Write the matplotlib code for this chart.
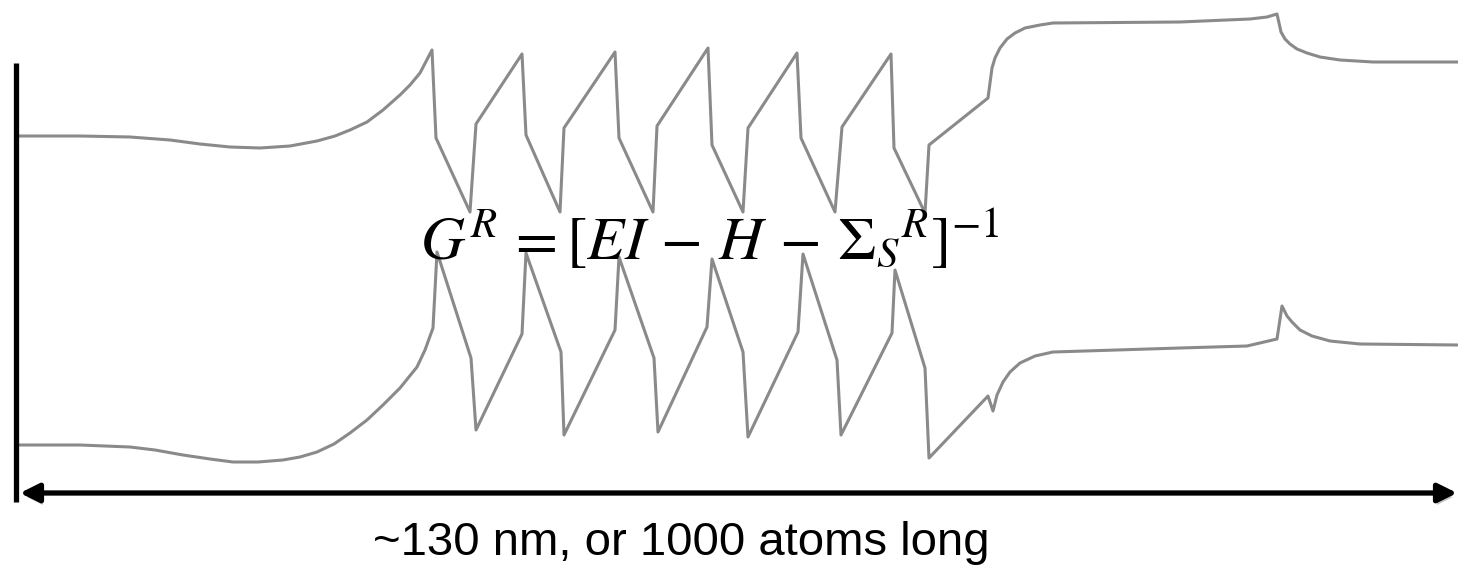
import matplotlib
matplotlib.use("Agg")
import matplotlib.pyplot as plt
import matplotlib.patheffects as pe

plt.rcParams['mathtext.fontset'] = 'stix'

# band edges (position along the device, energy in image units)
upperX = [18, 80, 130, 170, 200, 230, 260, 290, 317, 335, 350, 367, 383, 400, 410, 420, 432,
          436, 470, 476, 522, 526, 560, 564, 615, 619, 653, 657, 708, 712, 743, 748,
          797, 801, 835, 842, 891, 894, 925, 929, 988, 992, 995, 1000, 1007, 1015, 1025,
          1040, 1053, 1180, 1250, 1267, 1277, 1281, 1285, 1290, 1297, 1307, 1320, 1340,
          1373, 1458]
upperY = [136, 136, 137, 140, 144, 147, 148, 146, 141, 136, 130, 122, 110, 95, 85, 73, 50,
          138, 212, 124, 54, 135, 212, 128, 52, 138, 212, 126, 48, 145, 212, 128,
          53, 138, 212, 127, 54, 148, 213, 145, 98, 68, 58, 48, 39, 33, 28,
          25, 23, 22, 19, 17, 14, 32, 39, 44, 49, 53, 57, 60,
          62, 62]

lowerX = [18, 80, 130, 155, 183, 210, 233, 258, 283, 300, 317, 334, 350, 367, 383, 400, 417,
          425, 433,
          437, 471, 476, 522, 526, 561, 564, 615, 619, 654, 658, 707, 712, 743, 748,
          798, 803, 837, 841, 892, 895, 925, 929, 988, 993, 997, 1003, 1010, 1020, 1035,
          1053, 1180, 1247, 1277, 1282, 1287, 1292, 1300, 1312, 1330, 1360, 1458]
lowerY = [445, 445, 447, 450, 455, 459, 462, 462, 460, 457, 452, 444, 433, 420, 405, 388, 367,
          350, 328,
          252, 358, 430, 334, 253, 352, 435, 330, 257, 358, 432, 327, 259, 352, 437,
          332, 254, 360, 435, 333, 270, 368, 458, 396, 411, 395, 382, 372, 363, 356,
          352, 348, 346, 339, 306, 316, 322, 330, 336, 341, 344, 345]

deviceStart = 20
deviceEnd = 1457
arrowLevel = 493
contactX = 16
contactTop = 63
contactBottom = 502

formula = r'$G^{R}\,=[EI\,-\,H\,-\,\Sigma_{S}{}^{R}]^{-1}$'
lengthLabel = '~130 nm, or 1000 atoms long'

figure = plt.figure(figsize=(14.58, 5.73), dpi=100)
ax = figure.add_axes([0, 0, 1, 1])
ax.set_xlim(0, 1458)
ax.set_ylim(573, 0)
ax.axis('off')

ax.plot(upperX, upperY, color='#8a8a8a', linewidth=2.2)
ax.plot(lowerX, lowerY, color='#8a8a8a', linewidth=2.2)

# left contact
ax.plot([contactX, contactX], [contactTop, contactBottom], color='black', linewidth=3.8,
        solid_capstyle='butt')

# length arrow with a soft shadow
ax.annotate('', xy=(deviceEnd, arrowLevel), xytext=(deviceStart, arrowLevel),
            arrowprops=dict(arrowstyle='<|-|>', color='black', linewidth=3.8,
                            mutation_scale=28, shrinkA=0, shrinkB=0,
                            path_effects=[pe.SimplePatchShadow(offset=(1, -3), shadow_rgbFace='#999999', alpha=0.6),
                                          pe.Normal()]))

ax.text(420, 260, formula, fontsize=44, ha='left', va='baseline', color='black')
ax.text(681, 555, lengthLabel, fontsize=34, family='Liberation Sans', ha='center', va='baseline')

figure.savefig('out.png', dpi=100)
plt.close('all')
